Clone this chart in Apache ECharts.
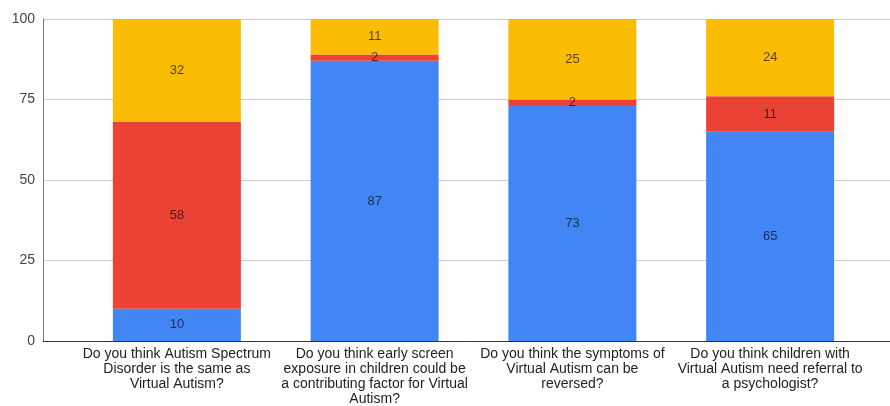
<!DOCTYPE html>
<html>
<head>
<meta charset="utf-8">
<script src="https://cdn.jsdelivr.net/npm/echarts@6/dist/echarts.min.js"></script>
<style>
html,body{margin:0;padding:0;background:#fff;}
#chart{width:890px;height:406px;}
</style>
</head>
<body>
<div id="chart"></div>
<script>
const categories = [
  "Do you think Autism Spectrum\nDisorder is the same as\nVirtual Autism?",
  "Do you think early screen\nexposure in children could be\na contributing factor for Virtual\nAutism?",
  "Do you think the symptoms of\nVirtual Autism can be\nreversed?",
  "Do you think children with\nVirtual Autism need referral to\na psychologist?"
];
const blueValues = [10, 87, 73, 65];
const redValues = [58, 2, 2, 11];
const yellowValues = [32, 11, 25, 24];
const yTicks = [0, 25, 50, 75, 100];

const font = "'Liberation Sans', Arial, sans-serif";
const chart = echarts.init(document.getElementById('chart'), null, {renderer: 'canvas'});

function seg(name, data, color) {
  return {
    name: name, type: 'bar', stack: 'total', data: data,
    xAxisIndex: 1, yAxisIndex: 1, barWidth: 128,
    itemStyle: {color: color, borderWidth: 0, borderColor: color, borderRadius: 0},
    label: {show: true, position: 'inside', fontSize: 13, fontFamily: font, color: 'rgba(0,0,0,0.66)'},
    emphasis: {disabled: true}
  };
}

chart.setOption({
  animation: false,
  backgroundColor: '#fff',
  grid: [
    {left: 43, right: 0, top: 19, bottom: 65, containLabel: false, outerBoundsMode: 'none'},
    {left: 78, right: 21, top: 19, bottom: 65, containLabel: false, outerBoundsMode: 'none'}
  ],
  xAxis: [
    {gridIndex: 0, type: 'value', min: 0, max: 1,
     axisLine: {show: true, lineStyle: {color: '#333', width: 1}},
     axisTick: {show: false}, axisLabel: {show: false}, splitLine: {show: false}},
    {gridIndex: 1, type: 'category', data: categories,
     axisLine: {show: false}, axisTick: {show: false},
     axisLabel: {interval: 0, margin: 6, fontSize: 14, lineHeight: 15, color: '#222', fontFamily: font, align: 'center'}}
  ],
  yAxis: [
    {gridIndex: 0, type: 'value', min: yTicks[0], max: yTicks[yTicks.length-1], interval: 25,
     axisLine: {show: true, lineStyle: {color: '#777', width: 1}},
     axisTick: {show: false},
     axisLabel: {margin: 8, fontSize: 14, color: '#444', fontFamily: font},
     splitLine: {show: true, lineStyle: {color: '#ccc', width: 1}}},
    {gridIndex: 1, type: 'value', min: 0, max: 100, show: false}
  ],
  series: [
    seg('Blue', blueValues, '#4285F4'),
    seg('Red', redValues, '#EA4335'),
    seg('Yellow', yellowValues, '#FBBC04')
  ]
});
</script>
</body>
</html>
